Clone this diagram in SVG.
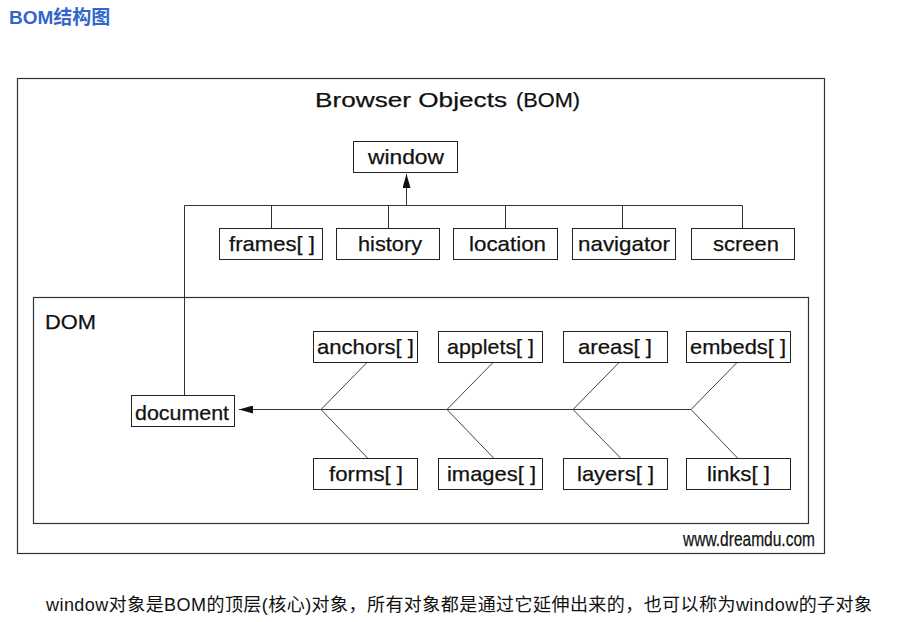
<svg xmlns="http://www.w3.org/2000/svg" width="917" height="622" viewBox="0 0 917 622">
<defs>
<style>
.bx{fill:#fff;stroke:#222;stroke-width:1}
.fr{fill:none;stroke:#333;stroke-width:1.2}
.ln{fill:none;stroke:#333;stroke-width:1}
.dg{fill:none;stroke:#444;stroke-width:1}
.t{font-family:"Liberation Sans",Arial,sans-serif;font-size:21px;fill:#111;stroke:#111;stroke-width:0.25}
.cap{font-family:"Liberation Sans","Noto Sans CJK SC",sans-serif;font-size:18px;fill:#111}
</style>
<marker id="ah" viewBox="0 0 14 8" refX="14" refY="4" markerWidth="14" markerHeight="8" markerUnits="userSpaceOnUse" orient="auto">
<path d="M0,0 L14,4 L0,8 z" fill="#111"/>
</marker>
</defs>
<rect width="917" height="622" fill="#fff"/>
<text x="9" y="24" font-family="'Liberation Sans','Noto Sans CJK SC',sans-serif" font-size="19" font-weight="bold" fill="#3366cc">BOM结构图</text>

<g id="bom-frame">
<rect class="fr" x="17.5" y="78.5" width="807" height="475"/>
<text class="t" x="315" y="107" font-size="25" textLength="192" lengthAdjust="spacingAndGlyphs">Browser Objects</text>
<text class="t" x="516" y="107" font-size="19" textLength="64" lengthAdjust="spacingAndGlyphs">(BOM)</text>
<text class="t" x="683" y="546" font-size="14" stroke-width="0" textLength="132" lengthAdjust="spacingAndGlyphs">www.dreamdu.com</text>
</g>
<g id="dom-frame">
<rect class="fr" x="33.5" y="297.5" width="775" height="226"/>
<text class="t" x="45" y="329" font-size="19" textLength="51" lengthAdjust="spacingAndGlyphs">DOM</text>
</g>

<g id="connectors">
<line class="ln" x1="184.5" y1="205.5" x2="742.5" y2="205.5"/>
<line class="ln" x1="184.5" y1="205.5" x2="184.5" y2="395.5"/>
<line class="ln" x1="271.5" y1="205.5" x2="271.5" y2="228.5"/>
<line class="ln" x1="388.5" y1="205.5" x2="388.5" y2="228.5"/>
<line class="ln" x1="505.5" y1="205.5" x2="505.5" y2="228.5"/>
<line class="ln" x1="622.5" y1="205.5" x2="622.5" y2="228.5"/>
<line class="ln" x1="742.5" y1="205.5" x2="742.5" y2="228.5"/>
<line class="ln" x1="406.5" y1="205.5" x2="406.5" y2="174" marker-end="url(#ah)"/>
<line class="ln" x1="691" y1="409.5" x2="239" y2="409.5" marker-end="url(#ah)"/>
<line class="dg" x1="321" y1="409.5" x2="367" y2="362.5"/>
<line class="dg" x1="321" y1="409.5" x2="368" y2="458.5"/>
<line class="dg" x1="447" y1="409.5" x2="493" y2="362.5"/>
<line class="dg" x1="447" y1="409.5" x2="494" y2="458.5"/>
<line class="dg" x1="573" y1="409.5" x2="619" y2="362.5"/>
<line class="dg" x1="573" y1="409.5" x2="621" y2="458.5"/>
<line class="dg" x1="691" y1="409.5" x2="737" y2="362.5"/>
<line class="dg" x1="691" y1="409.5" x2="738" y2="458.5"/>
</g>

<g id="window"><rect class="bx" x="353.5" y="141.5" width="104" height="31"/><text class="t" x="368" y="164" textLength="76" lengthAdjust="spacingAndGlyphs">window</text></g>
<g id="frames"><rect class="bx" x="219.5" y="228.5" width="103" height="31"/><text class="t" x="229" y="251" textLength="86" lengthAdjust="spacingAndGlyphs">frames[ ]</text></g>
<g id="history"><rect class="bx" x="336.5" y="228.5" width="103" height="31"/><text class="t" x="358" y="251" textLength="64" lengthAdjust="spacingAndGlyphs">history</text></g>
<g id="location"><rect class="bx" x="453.5" y="228.5" width="104" height="31"/><text class="t" x="469" y="251" textLength="77" lengthAdjust="spacingAndGlyphs">location</text></g>
<g id="navigator"><rect class="bx" x="572.5" y="228.5" width="103" height="31"/><text class="t" x="578" y="251" textLength="92" lengthAdjust="spacingAndGlyphs">navigator</text></g>
<g id="screen"><rect class="bx" x="691.5" y="228.5" width="103" height="31"/><text class="t" x="713" y="251" textLength="66" lengthAdjust="spacingAndGlyphs">screen</text></g>

<g id="document"><rect class="bx" x="131.5" y="395.5" width="103" height="31"/><text class="t" x="135" y="420" textLength="94" lengthAdjust="spacingAndGlyphs">document</text></g>
<g id="anchors"><rect class="bx" x="313.5" y="331.5" width="104" height="31"/><text class="t" x="317" y="354" textLength="97" lengthAdjust="spacingAndGlyphs">anchors[ ]</text></g>
<g id="applets"><rect class="bx" x="438.5" y="331.5" width="104" height="31"/><text class="t" x="447" y="354" textLength="87" lengthAdjust="spacingAndGlyphs">applets[ ]</text></g>
<g id="areas"><rect class="bx" x="563.5" y="331.5" width="104" height="31"/><text class="t" x="578" y="354" textLength="74" lengthAdjust="spacingAndGlyphs">areas[ ]</text></g>
<g id="embeds"><rect class="bx" x="686.5" y="331.5" width="104" height="31"/><text class="t" x="690" y="354" textLength="96" lengthAdjust="spacingAndGlyphs">embeds[ ]</text></g>
<g id="forms"><rect class="bx" x="313.5" y="458.5" width="104" height="31"/><text class="t" x="329" y="481" textLength="74" lengthAdjust="spacingAndGlyphs">forms[ ]</text></g>
<g id="images"><rect class="bx" x="438.5" y="458.5" width="104" height="31"/><text class="t" x="447" y="481" textLength="89" lengthAdjust="spacingAndGlyphs">images[ ]</text></g>
<g id="layers"><rect class="bx" x="563.5" y="458.5" width="104" height="31"/><text class="t" x="577" y="481" textLength="77" lengthAdjust="spacingAndGlyphs">layers[ ]</text></g>
<g id="links"><rect class="bx" x="686.5" y="458.5" width="104" height="31"/><text class="t" x="707" y="481" textLength="63" lengthAdjust="spacingAndGlyphs">links[ ]</text></g>

<text class="cap" x="46" y="611" textLength="826">window对象是BOM的顶层(核心)对象，所有对象都是通过它延伸出来的，也可以称为window的子对象</text>
</svg>
